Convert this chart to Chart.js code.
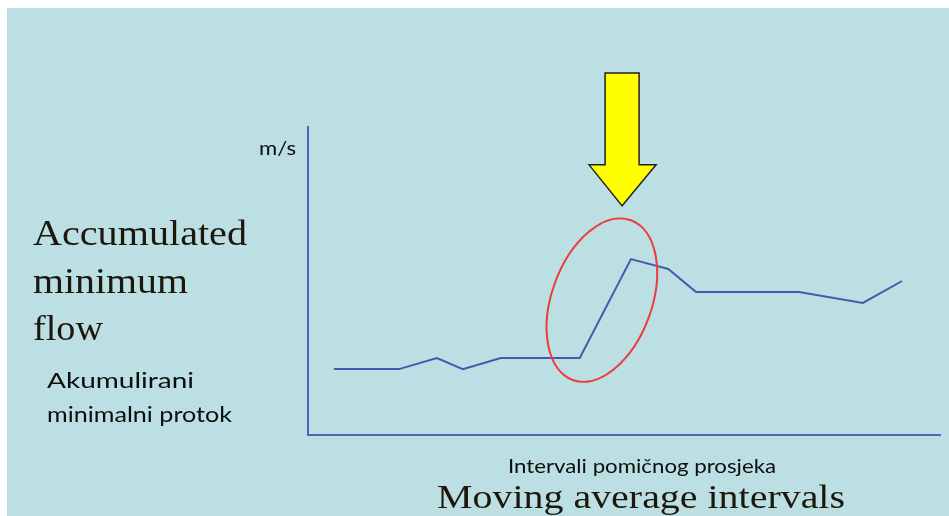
<!DOCTYPE html>
<html>
<head>
<meta charset="utf-8">
<script src="https://cdn.jsdelivr.net/npm/chart.js@4.4.1/dist/chart.umd.min.js"></script>
<style>
  html, body { margin: 0; padding: 0; background: #ffffff; }
  #wrap { position: relative; width: 949px; height: 516px; overflow: hidden; }
  #bg { position: absolute; left: 7px; top: 8px; right: 0; bottom: 0; background: #bbdfe2; }
  canvas { position: absolute; left: 0; top: 0; }
  .t { position: absolute; white-space: nowrap; color: #111; line-height: 1; transform-origin: 0 0; }
  .serif { font-family: "Liberation Serif", "DejaVu Serif", serif; color: #1c170c; }
  .sans { font-family: "Lato", "Open Sans", sans-serif; color: #0d0d0d; }
</style>
</head>
<body>
<div id="wrap">
  <div id="bg"></div>
  <canvas id="c" width="949" height="516"></canvas>
  <div class="t sans"  id="t1" style="font-size:19px;">m/s</div>
  <div class="t serif" id="t2" style="font-size:35px;">Accumulated</div>
  <div class="t serif" id="t3" style="font-size:35px;">minimum</div>
  <div class="t serif" id="t4" style="font-size:35px;">flow</div>
  <div class="t sans"  id="t5" style="font-size:22px;">Akumulirani</div>
  <div class="t sans"  id="t6" style="font-size:22px;">minimalni protok</div>
  <div class="t sans"  id="t7" style="font-size:20px;">Intervali pomičnog prosjeka</div>
  <div class="t serif" id="t8" style="font-size:33px;">Moving average intervals</div>
</div>
<script>
// Data (x positions along the interval axis, y = accumulated minimum flow)
const intervals = [4.1, 14.4, 20.4, 24.5, 30.5, 43.0, 51.1, 57.0, 61.4, 77.7, 87.8, 94.0];
const flowValues = [21.4, 21.4, 25.0, 21.4, 25.0, 25.0, 57.1, 53.9, 46.4, 46.4, 42.9, 50.0];
const xRange = [0, 100];
const yRange = [0, 100];

const axisColor = '#5a62b6';
const lineColor = '#4b56ae';

const annotations = {
  id: 'annotations',
  afterDatasetsDraw(chart) {
    const ctx = chart.ctx;
    const xs = chart.scales.x, ys = chart.scales.y;
    // Red ellipse around the jump
    const cx = xs.getPixelForValue(46.5), cy = ys.getPixelForValue(43.8);
    ctx.save();
    ctx.beginPath();
    ctx.ellipse(cx, cy, 50, 85, 20 * Math.PI / 180, 0, Math.PI * 2);
    ctx.strokeStyle = '#ee3b3b';
    ctx.lineWidth = 2;
    ctx.stroke();
    ctx.restore();
    // Yellow arrow
    const tipX = xs.getPixelForValue(49.7), tipY = ys.getPixelForValue(74.4);
    const topY = ys.getPixelForValue(117.5);
    const headY = tipY - 41;
    ctx.save();
    ctx.beginPath();
    ctx.moveTo(tipX - 17, topY);
    ctx.lineTo(tipX + 17, topY);
    ctx.lineTo(tipX + 17, headY);
    ctx.lineTo(tipX + 34, headY);
    ctx.lineTo(tipX, tipY);
    ctx.lineTo(tipX - 33, headY);
    ctx.lineTo(tipX - 17, headY);
    ctx.closePath();
    ctx.fillStyle = '#ffff00';
    ctx.fill();
    ctx.strokeStyle = '#222222';
    ctx.lineWidth = 1.5;
    ctx.stroke();
    ctx.restore();
  }
};

new Chart(document.getElementById('c'), {
  type: 'line',
  data: {
    datasets: [{
      data: intervals.map((x, i) => ({ x, y: flowValues[i] })),
      borderColor: lineColor,
      borderWidth: 2,
      pointRadius: 0,
      tension: 0,
      fill: false
    }]
  },
  options: {
    responsive: false,
    animation: false,
    events: [],
    layout: { padding: { left: 308, top: 127, right: 9, bottom: 81 } },
    plugins: { legend: { display: false }, tooltip: { enabled: false } },
    scales: {
      x: {
        type: 'linear', min: xRange[0], max: xRange[1],
        grid: { display: false, drawTicks: false },
        ticks: { display: false },
        border: { display: true, color: axisColor, width: 2 }
      },
      y: {
        type: 'linear', min: yRange[0], max: yRange[1],
        grid: { display: false, drawTicks: false },
        ticks: { display: false },
        border: { display: true, color: axisColor, width: 2 }
      }
    }
  },
  plugins: [annotations]
});

// Text placement: left edge, baseline, target width
function place(id, left, baseline, width) {
  const el = document.getElementById(id);
  el.style.transform = 'none';
  el.style.left = left + 'px';
  el.style.top = '0px';
  const m = document.createElement('span');
  m.style.display = 'inline-block';
  m.style.width = '0';
  m.style.height = '0';
  m.style.verticalAlign = 'baseline';
  el.appendChild(m);
  const b = m.getBoundingClientRect().top - el.getBoundingClientRect().top;
  el.removeChild(m);
  el.style.top = (baseline - b) + 'px';
  if (width) {
    const w = el.getBoundingClientRect().width;
    el.style.transform = 'scaleX(' + (width / w) + ')';
  }
}
function layoutText() {
  place('t1', 259, 155, 37);
  place('t2', 33, 245, 214);
  place('t3', 33, 293, 155);
  place('t4', 33, 340, 70);
  place('t5', 47, 388, 147);
  place('t6', 47, 422, 185);
  place('t7', 508, 473, 268);
  place('t8', 437, 508, 408);
}
if (document.fonts && document.fonts.ready) {
  layoutText();
  document.fonts.ready.then(layoutText);
} else {
  layoutText();
}
</script>
</body>
</html>
